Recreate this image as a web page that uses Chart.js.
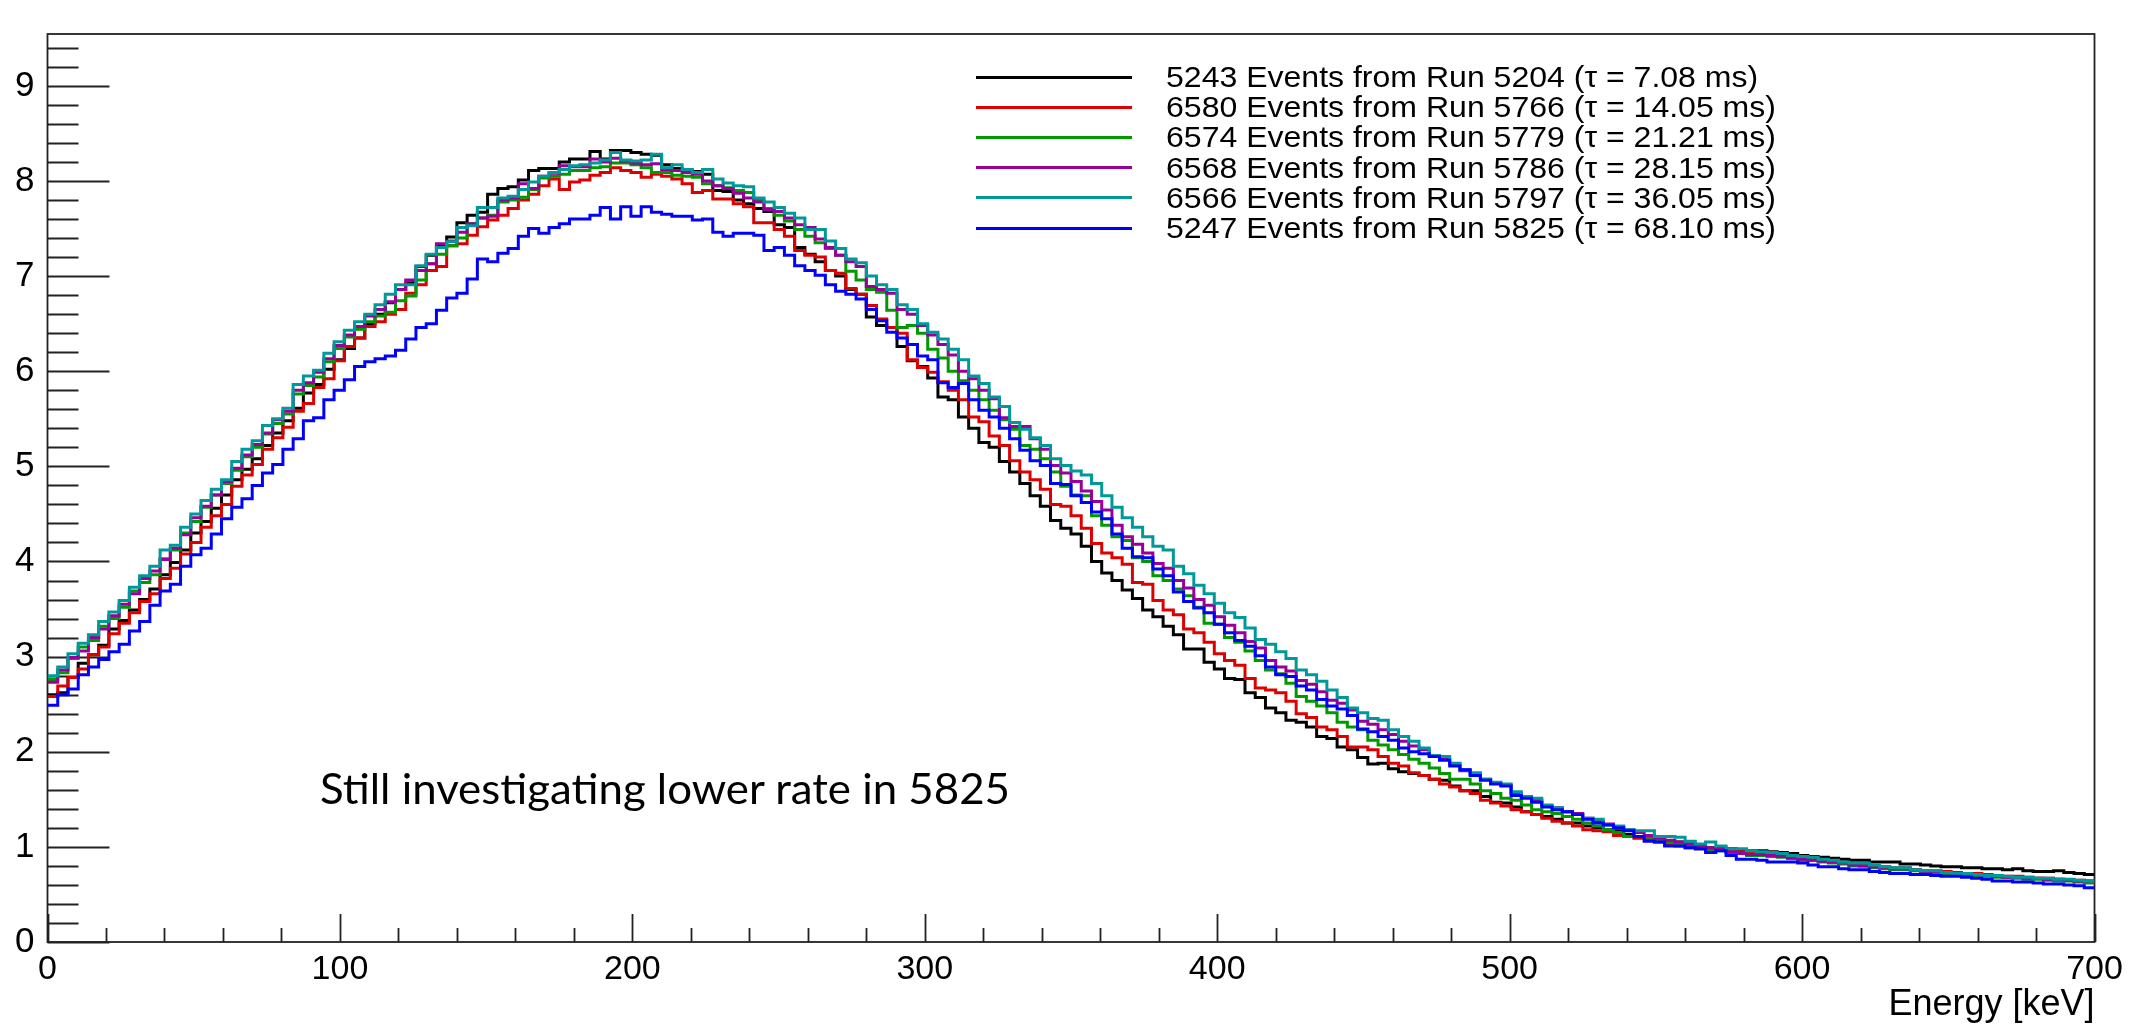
<!DOCTYPE html>
<html>
<head>
<meta charset="utf-8">
<script src="https://cdn.jsdelivr.net/npm/chart.js@4.4.1/dist/chart.umd.min.js"></script>
<style>
  html, body { margin: 0; padding: 0; background: #ffffff; }
  #wrap { position: relative; width: 2131px; height: 1030px; overflow: hidden; background: #ffffff; }
  #c { position: absolute; left: 0; top: 0; }
  .legLine { position: absolute; height: 3px; }
  .legText { position: absolute; white-space: nowrap; font-family: 'Liberation Sans', Arial, Helvetica, sans-serif;
             font-size: 29px; line-height: 30px; color: #000; transform-origin: 0 50%; }
  #note { position: absolute; white-space: nowrap; font-family: Lato, 'Open Sans', sans-serif; font-size: 43px;
          line-height: 43px; color: #000; transform-origin: 0 50%; }
</style>
</head>
<body>
<div id="wrap">
  <canvas id="c" width="2131" height="1030"></canvas>
  <div id="legend"></div>
  <div id="note">Still investigating lower rate in 5825</div>
</div>
<script>
// ---------------- data ----------------
const E_MIN = 0, E_MAX = 700, BIN_WIDTH = 3.5;          // 200 bins of 3.5 keV
const X_TICK_LABELS = [0, 100, 200, 300, 400, 500, 600, 700];
const Y_TICK_LABELS = [0, 1, 2, 3, 4, 5, 6, 7, 8, 9];
const Y_MAX = 9.545;

const LABELS = [
  '5243 Events from Run 5204 (\u03C4 = 7.08 ms)',
  '6580 Events from Run 5766 (\u03C4 = 14.05 ms)',
  '6574 Events from Run 5779 (\u03C4 = 21.21 ms)',
  '6568 Events from Run 5786 (\u03C4 = 28.15 ms)',
  '6566 Events from Run 5797 (\u03C4 = 36.05 ms)',
  '5247 Events from Run 5825 (\u03C4 = 68.10 ms)'
];
const COLORS = ['#000000', '#dd0000', '#009900', '#990099', '#009999', '#0000ff'];

const run5204 = [
  2.60,2.62,2.78,2.93,3.02,3.12,3.29,3.38,3.49,3.60,
  3.71,3.86,3.99,4.12,4.30,4.42,4.56,4.70,4.86,4.97,
  5.08,5.22,5.35,5.48,5.61,5.77,5.86,6.02,6.12,6.24,
  6.35,6.50,6.60,6.72,6.86,6.93,7.10,7.22,7.31,7.41,
  7.56,7.64,7.67,7.86,7.92,7.94,8.01,8.11,8.13,8.13,
  8.20,8.23,8.23,8.31,8.23,8.32,8.32,8.30,8.28,8.27,
  8.17,8.13,8.11,8.10,8.07,7.90,7.89,7.80,7.76,7.71,
  7.68,7.54,7.51,7.30,7.23,7.15,7.06,7.00,6.86,6.81,
  6.57,6.48,6.46,6.26,6.11,6.05,5.93,5.73,5.70,5.52,
  5.40,5.25,5.20,5.05,4.94,4.82,4.69,4.58,4.43,4.35,
  4.29,4.16,4.00,3.88,3.80,3.70,3.61,3.49,3.42,3.32,
  3.23,3.08,3.08,2.94,2.87,2.77,2.76,2.62,2.57,2.46,
  2.41,2.33,2.31,2.26,2.16,2.14,2.05,2.02,1.94,1.87,
  1.88,1.82,1.79,1.77,1.75,1.71,1.70,1.64,1.59,1.59,
  1.53,1.47,1.46,1.42,1.37,1.34,1.32,1.29,1.25,1.25,
  1.22,1.20,1.18,1.17,1.13,1.11,1.10,1.08,1.05,1.05,
  1.03,1.01,0.99,0.99,0.98,0.97,0.96,0.96,0.95,0.94,
  0.93,0.91,0.90,0.89,0.88,0.87,0.86,0.86,0.84,0.84,
  0.84,0.82,0.82,0.81,0.80,0.79,0.79,0.78,0.78,0.77,
  0.77,0.76,0.77,0.75,0.74,0.74,0.75,0.73,0.72,0.71
];
const run5766 = [
  2.58,2.69,2.78,2.87,3.02,3.10,3.24,3.35,3.46,3.58,
  3.66,3.82,3.93,4.08,4.20,4.36,4.48,4.60,4.79,4.91,
  5.02,5.18,5.30,5.41,5.58,5.66,5.83,5.92,6.11,6.26,
  6.35,6.47,6.52,6.60,6.65,6.82,6.91,7.06,7.10,7.32,
  7.34,7.43,7.52,7.59,7.64,7.71,7.80,7.86,7.95,8.02,
  7.91,7.99,8.01,8.06,8.09,8.14,8.11,8.09,8.04,8.07,
  8.05,8.02,7.97,7.88,7.90,7.81,7.81,7.76,7.73,7.56,
  7.56,7.49,7.42,7.27,7.22,7.20,7.06,7.03,6.87,6.81,
  6.69,6.55,6.46,6.40,6.12,6.04,5.99,5.89,5.80,5.70,
  5.52,5.47,5.32,5.22,5.06,4.94,4.86,4.76,4.60,4.58,
  4.48,4.35,4.19,4.09,4.04,3.97,3.78,3.76,3.59,3.49,
  3.44,3.29,3.25,3.15,3.03,2.96,2.91,2.77,2.67,2.65,
  2.62,2.53,2.40,2.36,2.26,2.23,2.16,2.05,2.05,2.02,
  1.95,1.88,1.85,1.78,1.75,1.71,1.66,1.63,1.59,1.56,
  1.49,1.46,1.43,1.39,1.37,1.34,1.30,1.27,1.25,1.22,
  1.18,1.17,1.16,1.12,1.11,1.09,1.08,1.05,1.02,1.01,
  0.99,0.98,0.97,0.97,0.96,0.95,0.94,0.94,0.92,0.91,
  0.89,0.88,0.87,0.86,0.84,0.83,0.83,0.81,0.80,0.79,
  0.78,0.78,0.76,0.75,0.75,0.74,0.73,0.72,0.72,0.71,
  0.70,0.69,0.69,0.68,0.67,0.67,0.66,0.65,0.65,0.64
];
const run5779 = [
  2.76,2.83,2.98,3.10,3.17,3.32,3.40,3.52,3.69,3.78,
  3.86,4.03,4.12,4.30,4.42,4.57,4.70,4.82,4.96,5.10,
  5.20,5.34,5.45,5.55,5.76,5.85,5.94,6.10,6.24,6.36,
  6.44,6.52,6.58,6.62,6.74,6.79,6.96,7.13,7.23,7.32,
  7.40,7.55,7.61,7.64,7.78,7.80,7.83,7.91,8.03,8.05,
  8.07,8.11,8.11,8.14,8.15,8.19,8.19,8.17,8.14,8.09,
  8.09,8.06,8.05,8.04,7.97,7.95,7.93,7.90,7.88,7.80,
  7.71,7.64,7.58,7.49,7.42,7.35,7.29,7.22,7.05,6.96,
  6.86,6.83,6.64,6.46,6.48,6.40,6.23,6.14,6.00,5.90,
  5.80,5.70,5.59,5.49,5.39,5.22,5.18,5.08,4.94,4.79,
  4.70,4.69,4.48,4.38,4.26,4.22,4.04,4.00,3.85,3.80,
  3.71,3.64,3.52,3.35,3.34,3.20,3.15,3.06,2.96,2.86,
  2.82,2.72,2.58,2.53,2.48,2.41,2.31,2.26,2.23,2.12,
  2.07,2.02,1.97,1.92,1.88,1.83,1.77,1.71,1.71,1.66,
  1.59,1.56,1.51,1.49,1.44,1.39,1.37,1.35,1.32,1.29,
  1.25,1.22,1.18,1.15,1.11,1.11,1.10,1.08,1.05,1.03,
  1.01,0.98,0.96,0.96,0.94,0.93,0.91,0.91,0.90,0.89,
  0.88,0.86,0.86,0.84,0.83,0.82,0.80,0.80,0.78,0.77,
  0.76,0.76,0.75,0.73,0.73,0.72,0.71,0.70,0.70,0.69,
  0.68,0.68,0.67,0.66,0.66,0.65,0.64,0.64,0.63,0.62
];
const run5786 = [
  2.73,2.86,2.99,3.06,3.20,3.29,3.43,3.55,3.66,3.82,
  3.90,4.02,4.14,4.28,4.46,4.58,4.70,4.84,4.98,5.12,
  5.23,5.35,5.49,5.58,5.80,5.88,5.99,6.13,6.27,6.38,
  6.47,6.58,6.65,6.73,6.86,6.96,7.06,7.13,7.34,7.37,
  7.46,7.55,7.61,7.63,7.80,7.82,7.97,7.92,8.05,8.08,
  8.16,8.15,8.15,8.23,8.20,8.24,8.21,8.19,8.17,8.18,
  8.12,8.11,8.09,8.07,8.00,7.95,7.92,7.87,7.82,7.78,
  7.70,7.68,7.61,7.54,7.51,7.39,7.30,7.22,7.15,7.10,
  6.89,6.86,6.82,6.65,6.60,6.48,6.38,6.28,6.17,6.00,
  5.92,5.80,5.71,5.51,5.42,5.42,5.29,5.18,5.01,4.93,
  4.84,4.74,4.63,4.54,4.38,4.26,4.18,4.09,3.98,3.93,
  3.80,3.72,3.60,3.54,3.42,3.33,3.25,3.16,3.09,2.96,
  2.89,2.85,2.75,2.71,2.63,2.54,2.51,2.44,2.32,2.29,
  2.23,2.18,2.11,2.06,2.02,1.96,1.92,1.87,1.80,1.76,
  1.71,1.67,1.65,1.56,1.52,1.49,1.43,1.41,1.37,1.35,
  1.30,1.27,1.24,1.21,1.18,1.15,1.12,1.09,1.07,1.05,
  1.03,1.00,0.99,0.98,0.95,0.93,0.92,0.92,0.91,0.90,
  0.88,0.87,0.86,0.85,0.84,0.83,0.81,0.80,0.79,0.78,
  0.77,0.77,0.76,0.74,0.74,0.73,0.72,0.71,0.71,0.70,
  0.69,0.68,0.68,0.67,0.67,0.66,0.66,0.65,0.64,0.64
];
const run5797 = [
  2.80,2.89,3.03,3.14,3.23,3.37,3.47,3.59,3.73,3.85,
  3.95,4.12,4.17,4.36,4.50,4.64,4.76,4.86,5.05,5.18,
  5.27,5.43,5.50,5.61,5.86,5.95,6.01,6.19,6.31,6.43,
  6.52,6.60,6.70,6.81,6.91,6.91,7.11,7.23,7.30,7.36,
  7.51,7.53,7.72,7.72,7.82,7.84,7.91,7.99,8.05,8.09,
  8.12,8.16,8.17,8.19,8.22,8.30,8.22,8.21,8.22,8.28,
  8.14,8.17,8.12,8.09,8.12,8.02,7.98,7.95,7.94,7.82,
  7.78,7.72,7.66,7.61,7.49,7.49,7.37,7.29,7.18,7.14,
  7.00,6.91,6.86,6.70,6.65,6.50,6.41,6.34,6.23,6.12,
  5.95,5.87,5.73,5.63,5.46,5.39,5.30,5.22,5.08,5.01,
  4.95,4.91,4.82,4.69,4.57,4.46,4.36,4.26,4.16,4.12,
  3.95,3.87,3.75,3.66,3.56,3.46,3.41,3.30,3.18,3.13,
  3.05,2.98,2.86,2.81,2.74,2.65,2.57,2.46,2.41,2.35,
  2.33,2.23,2.16,2.11,2.04,1.96,1.95,1.88,1.81,1.78,
  1.71,1.68,1.66,1.58,1.53,1.51,1.44,1.41,1.37,1.34,
  1.30,1.29,1.23,1.22,1.18,1.17,1.17,1.11,1.11,1.10,
  1.06,1.03,1.05,1.01,0.98,0.98,0.96,0.95,0.94,0.93,
  0.91,0.90,0.89,0.87,0.86,0.84,0.83,0.83,0.81,0.79,
  0.78,0.78,0.76,0.75,0.75,0.73,0.72,0.72,0.71,0.70,
  0.70,0.69,0.68,0.68,0.67,0.67,0.66,0.66,0.65,0.64
];
const run5825 = [
  2.49,2.60,2.66,2.81,2.89,2.97,3.05,3.13,3.27,3.37,
  3.54,3.69,3.76,3.95,4.07,4.14,4.29,4.45,4.57,4.66,
  4.80,4.93,5.02,5.18,5.29,5.48,5.51,5.70,5.80,5.91,
  6.05,6.10,6.13,6.16,6.22,6.34,6.46,6.50,6.64,6.77,
  6.82,6.97,7.18,7.15,7.24,7.29,7.42,7.50,7.45,7.51,
  7.55,7.60,7.60,7.64,7.72,7.60,7.73,7.63,7.73,7.67,
  7.65,7.63,7.63,7.59,7.60,7.46,7.42,7.45,7.45,7.43,
  7.27,7.30,7.22,7.11,7.06,7.01,6.91,6.84,6.81,6.76,
  6.65,6.53,6.41,6.35,6.28,6.16,6.12,5.88,5.83,5.87,
  5.70,5.59,5.52,5.40,5.29,5.17,5.06,5.01,4.82,4.81,
  4.69,4.62,4.52,4.45,4.29,4.14,4.05,4.04,3.92,3.85,
  3.68,3.58,3.51,3.46,3.34,3.25,3.17,3.11,3.01,2.89,
  2.81,2.79,2.69,2.65,2.55,2.48,2.45,2.38,2.24,2.21,
  2.16,2.12,2.04,2.00,1.98,1.95,1.91,1.85,1.81,1.75,
  1.70,1.66,1.64,1.54,1.51,1.47,1.42,1.39,1.37,1.34,
  1.29,1.25,1.23,1.20,1.17,1.11,1.06,1.05,1.01,1.01,
  0.99,0.98,0.94,0.96,0.91,0.87,0.87,0.86,0.84,0.84,
  0.84,0.83,0.81,0.79,0.79,0.77,0.76,0.76,0.74,0.73,
  0.72,0.72,0.71,0.71,0.70,0.69,0.69,0.68,0.67,0.66,
  0.64,0.64,0.63,0.63,0.62,0.61,0.61,0.60,0.59,0.57
];
const SERIES = [run5204, run5766, run5779, run5786, run5797, run5825];

// ---------------- build histogram points (bin low edges + closing edge) ----------------
function histPoints(vals) {
  const pts = vals.map((v, i) => ({ x: E_MIN + i * BIN_WIDTH, y: v }));
  pts.push({ x: E_MIN + vals.length * BIN_WIDTH, y: vals[vals.length - 1] });
  return pts;
}

const FONT = "'Liberation Sans', Arial, Helvetica, sans-serif";
const AXIS_COLOR = '#222222';

// ROOT-style frame with inward major/minor ticks, drawn through the chart scales
const rootFrame = {
  id: 'rootFrame',
  beforeDatasetsDraw(chart) {
    const { ctx, chartArea: a, scales: { x, y } } = chart;
    ctx.save();
    ctx.strokeStyle = AXIS_COLOR;
    ctx.lineWidth = 1.8;
    ctx.strokeRect(a.left, a.top, a.right - a.left, a.bottom - a.top);
    ctx.beginPath();
    const xMinor = (X_TICK_LABELS[1] - X_TICK_LABELS[0]) / 5;
    const nx = Math.round((E_MAX - E_MIN) / xMinor);
    for (let k = 0; k <= nx; k++) {
      const v = E_MIN + k * xMinor;
      const px = Math.round(x.getPixelForValue(v)) + 0.5;
      const len = (k % 5 === 0) ? 28 : 14;
      ctx.moveTo(px, a.bottom);
      ctx.lineTo(px, a.bottom - len);
    }
    const yMinor = (Y_TICK_LABELS[1] - Y_TICK_LABELS[0]) / 5;
    for (let k = 0; k * yMinor <= Y_MAX; k++) {
      const v = k * yMinor;
      const py = Math.round(y.getPixelForValue(v)) + 0.5;
      const len = (k % 5 === 0) ? 62 : 31;
      ctx.moveTo(a.left, py);
      ctx.lineTo(a.left + len, py);
    }
    ctx.stroke();
    ctx.restore();
  }
};

const ctx = document.getElementById('c').getContext('2d');
new Chart(ctx, {
  type: 'line',
  data: {
    datasets: SERIES.map((vals, i) => ({
      label: LABELS[i],
      data: histPoints(vals),
      borderColor: COLORS[i],
      backgroundColor: COLORS[i],
      borderWidth: 3,
      pointRadius: 0,
      fill: false,
      stepped: 'before',
      tension: 0,
      order: SERIES.length - i
    }))
  },
  options: {
    responsive: false,
    animation: false,
    devicePixelRatio: 1,
    layout: { padding: { top: 11, right: 36.5, left: 0, bottom: 0 } },
    plugins: { legend: { display: false }, tooltip: { enabled: false } },
    scales: {
      x: {
        type: 'linear',
        min: E_MIN, max: E_MAX,
        grid: { display: false, drawTicks: false },
        border: { display: false },
        afterBuildTicks(s) { s.ticks = X_TICK_LABELS.map(v => ({ value: v })); },
        ticks: {
          autoSkip: false, maxRotation: 0, color: '#000', padding: 7,
          font: { family: FONT, size: 34 },
          callback: (v) => String(v)
        },
        title: {
          display: true, text: 'Energy [keV]', align: 'end', color: '#000',
          font: { family: FONT, size: 36 }, padding: { top: 0, bottom: 3 }
        },
        afterFit(s) { s.height = 88; }
      },
      y: {
        type: 'linear',
        min: 0, max: Y_MAX,
        grid: { display: false, drawTicks: false },
        border: { display: false },
        afterBuildTicks(s) { s.ticks = Y_TICK_LABELS.map(v => ({ value: v })); },
        ticks: {
          autoSkip: false, color: '#000', padding: 13,
          font: { family: FONT, size: 35 },
          callback: (v) => String(v)
        },
        afterFit(s) { s.width = 47.5; }
      }
    }
  },
  plugins: [rootFrame]
});

// ---------------- legend (HTML text) ----------------
const LEG_LINE_X = 976, LEG_LINE_W = 156, LEG_TEXT_X = 1166, LEG_TOP = 77, LEG_STEP = 30.2, LEG_TEXT_W = 610;
const legend = document.getElementById('legend');
const texts = [];
LABELS.forEach((lab, i) => {
  const cy = LEG_TOP + i * LEG_STEP;
  const ln = document.createElement('div');
  ln.className = 'legLine';
  ln.style.left = LEG_LINE_X + 'px';
  ln.style.width = LEG_LINE_W + 'px';
  ln.style.top = (cy - 1.5) + 'px';
  ln.style.background = COLORS[i];
  legend.appendChild(ln);
  const t = document.createElement('div');
  t.className = 'legText';
  t.textContent = lab;
  t.style.left = LEG_TEXT_X + 'px';
  t.style.top = (cy - 15) + 'px';
  legend.appendChild(t);
  texts.push(t);
});
const widest = Math.max(...texts.map(t => t.getBoundingClientRect().width));
const k = LEG_TEXT_W / widest;
texts.forEach(t => { t.style.transform = 'scaleX(' + k.toFixed(4) + ')'; });

// ---------------- annotation ----------------
const note = document.getElementById('note');
note.style.left = '320px';
note.style.top = '766px';
const nw = note.getBoundingClientRect().width;
note.style.transform = 'scaleX(' + (690 / nw).toFixed(4) + ')';
</script>
</body>
</html>
